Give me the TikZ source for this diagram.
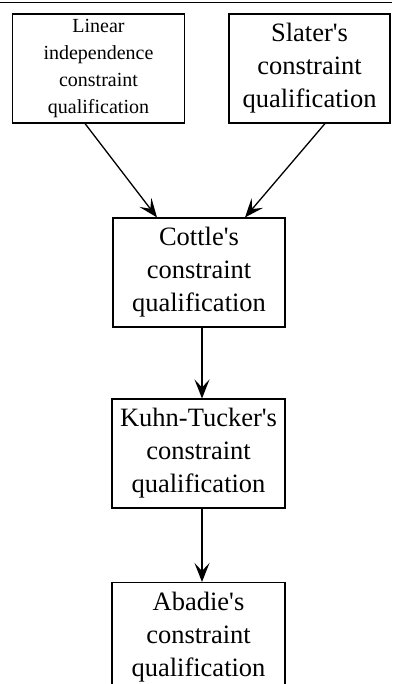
\documentclass[tikz,border=0pt]{standalone}
\usepackage{fontspec}
\setmainfont{Liberation Serif}
\usetikzlibrary{arrows.meta}

\begin{document}
\begin{tikzpicture}[
  x=1pt,y=1pt,
  box/.style={draw,line width=1.1pt,align=center,inner sep=0pt,minimum height=109pt},
  big/.style={font=\fontsize{26.5}{33}\selectfont},
  small/.style={font=\fontsize{20}{27}\selectfont},
  edge/.style={-{Stealth[length=19pt,width=15pt,inset=8pt]},line width=1.3pt}
]
\clip (0,0) rectangle (392,-684);
\draw[line width=0.8pt] (0,-2) -- (392,-2);
\node[box,small,minimum width=172pt] (li) at (98.5,-68.5) {Linear\\independence\\constraint\\qualification};
\node[box,big,minimum width=161pt] (sl) at (309.5,-68.5) {Slater\textquotesingle s\\constraint\\qualification};
\node[box,big,minimum width=172pt] (co) at (199,-272.5) {Cottle\textquotesingle s\\constraint\\qualification};
\node[box,big,minimum width=173pt] (kt) at (198.5,-453.5) {Kuhn-Tucker\textquotesingle s\\constraint\\qualification};
\node[box,big,minimum width=173pt] (ab) at (198.5,-637) {Abadie\textquotesingle s\\constraint\\qualification};
\draw[edge] ([xshift=-13.5pt]li.south) -- ([xshift=-42pt]co.north);
\draw[edge] ([xshift=15.5pt]sl.south) -- ([xshift=46pt]co.north);
\draw[edge] ([xshift=3pt]co.south) -- ([xshift=3.5pt]kt.north);
\draw[edge] ([xshift=3.5pt]kt.south) -- ([xshift=3.5pt]ab.north);
\end{tikzpicture}
\end{document}
